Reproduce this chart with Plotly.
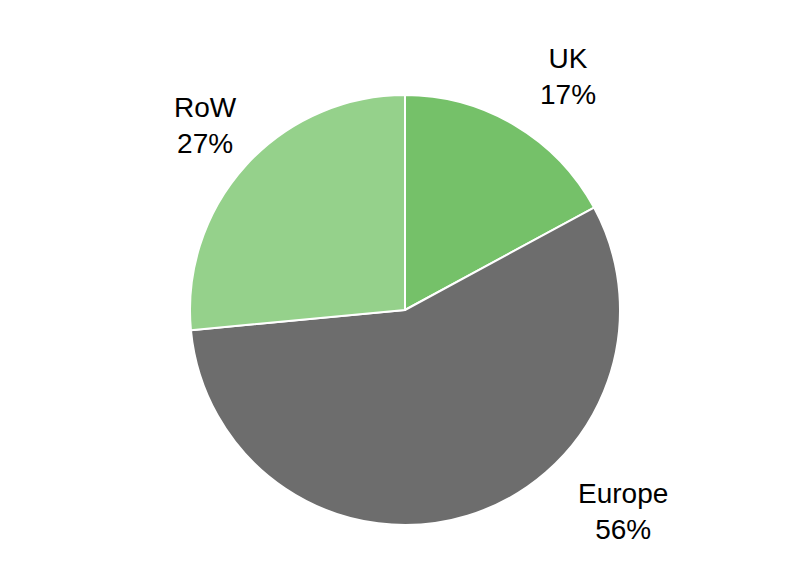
import plotly.graph_objects as go

labels = ["UK", "Europe", "RoW"]
values = [17.1, 56.4, 26.5]          # slice shares
pct_labels = [17, 56, 27]            # percentages printed on the chart
colors = ["#75C169", "#6D6D6D", "#95D18B"]
# label centre positions (pixels from top-left) for outside labels
label_px = [560, 615, 197]
label_py = [69, 503, 118]

W, H = 800, 580
cx, cy, r = 397, 302, 215  # offset compensates plotly's pie placement

fig = go.Figure(go.Pie(
    labels=labels, values=values, sort=False, direction="clockwise", rotation=0,
    marker=dict(colors=colors, line=dict(color="white", width=2)),
    textinfo="none", hoverinfo="label+percent", showlegend=False,
    domain=dict(x=[(cx - r) / W, (cx + r) / W], y=[(H - cy - r) / H, (H - cy + r) / H]),
))

for lab, p, x, y in zip(labels, pct_labels, label_px, label_py):
    fig.add_annotation(x=x / W, y=1 - y / H, xref="paper", yref="paper", showarrow=False,
                       xanchor="center", yanchor="middle",
                       text=f"{lab}<br>{p}%", align="center",
                       font=dict(family="Liberation Sans, Arial", size=28, color="black"))

fig.update_layout(width=W, height=H, margin=dict(l=0, r=0, t=0, b=0),
                  paper_bgcolor="white", plot_bgcolor="white")
fig.write_html("out.html")
